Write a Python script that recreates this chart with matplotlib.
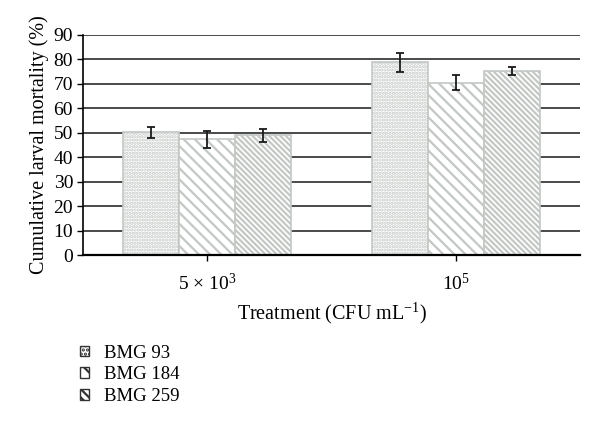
import matplotlib
matplotlib.use("Agg")
import matplotlib.pyplot as plt
import numpy as np
from matplotlib.patches import Patch

plt.rcParams['font.family'] = ['Liberation Serif', 'DejaVu Serif']
plt.rcParams['mathtext.fontset'] = 'custom'
plt.rcParams['mathtext.rm'] = 'Liberation Serif'
plt.rcParams['mathtext.it'] = 'Liberation Serif:italic'
plt.rcParams['hatch.linewidth'] = 1.6

categories = ['5 × 10$^3$', '10$^5$']
series = ['BMG 93', 'BMG 184', 'BMG 259']
bmg93 = [50.2, 78.8]
bmg184 = [47.3, 70.5]
bmg259 = [49.0, 75.2]
err93 = [2.2, 3.8]
err184 = [3.5, 3.0]
err259 = [2.7, 1.5]
yticks = [0, 10, 20, 30, 40, 50, 60, 70, 80, 90]

values = [bmg93, bmg184, bmg259]
errors = [err93, err184, err259]
hatches = ['.....', '\\\\\\', '\\\\\\\\\\\\']
edge = '#c3c8c4'

fig = plt.figure(figsize=(6, 4.34), dpi=100)
ax = fig.add_axes([0.138, 0.4124, 0.829, 0.507])

x = np.arange(len(categories))
w = 0.225
for i, (vals, errs, h) in enumerate(zip(values, errors, hatches)):
    pos = x + (i - 1) * w
    ax.bar(pos, vals, w, color='white', edgecolor=edge, hatch=h, linewidth=1.2, zorder=2)
    ax.errorbar(pos, vals, yerr=errs, fmt='none', ecolor='#1a1a1a', elinewidth=1.3,
                capsize=3, capthick=1.3, zorder=3)

ax.set_xlim(-0.5, 1.5)
ax.set_ylim(0, 90)
ax.set_yticks(yticks)
ax.set_xticks(x)
ax.set_xticklabels(categories, fontsize=14)
ax.tick_params(axis='y', labelsize=14, length=4, width=1, direction='out', pad=3)
ax.tick_params(axis='x', length=4, width=1, direction='out', pad=9)
ax.yaxis.grid(True, color='#4a4a4a', linewidth=1.4, zorder=0)
ax.set_axisbelow(True)
for s in ['top', 'right']:
    ax.spines[s].set_visible(False)
ax.spines['left'].set_linewidth(1.2)
ax.spines['bottom'].set_linewidth(1.6)
ax.set_ylabel('Cumulative larval mortality (%)', fontsize=14.5, labelpad=3)
ax.set_xlabel('Treatment (CFU mL$^{-1}$)', fontsize=14.5, labelpad=5)

handles = [Patch(facecolor='white', edgecolor='#333333', hatch=h, linewidth=1.0) for h in ['....', '\\\\', '\\\\\\\\']]
fig.legend(handles, series, loc='upper left', bbox_to_anchor=(0.105, 0.245), frameon=False,
           fontsize=13.5, handlelength=0.5, handleheight=0.5, handletextpad=0.8, labelspacing=0.25)

fig.savefig('out.png', dpi=100)
